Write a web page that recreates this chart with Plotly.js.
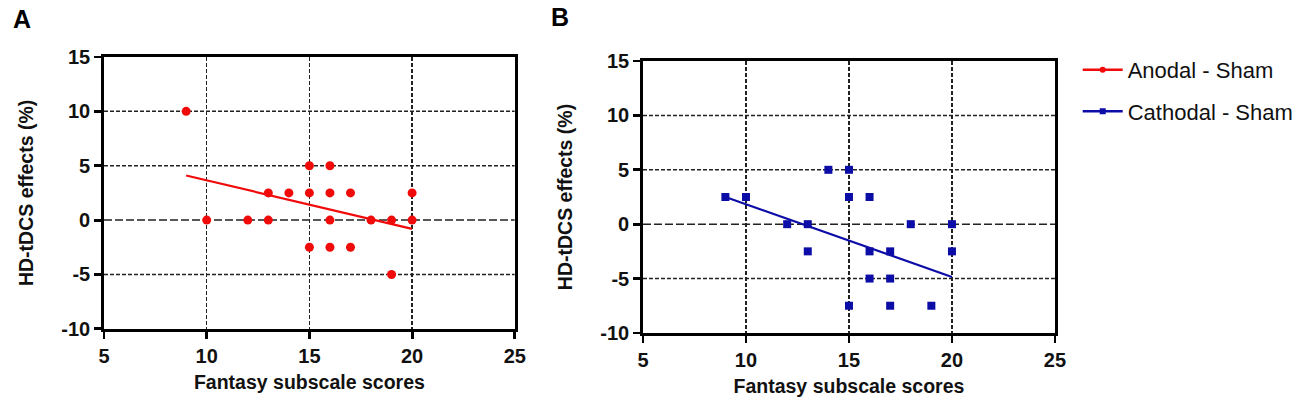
<!DOCTYPE html>
<html>
<head>
<meta charset="utf-8">
<script src="https://cdn.plot.ly/plotly-3.0.1.min.js"></script>
<style>
  html, body { margin: 0; padding: 0; background: #fff; }
  #chart { width: 1300px; height: 407px; }
</style>
</head>
<body>
<div id="chart"></div>
<script>
// Panel A : Anodal - Sham
const anodalX = [9, 10, 12, 13, 13, 14, 15, 15, 15, 16, 16, 16, 16, 17, 17, 18, 19, 19, 20, 20];
const anodalY = [10, 0, 0, 0, 2.5, 2.5, 5, 2.5, -2.5, 5, 2.5, 0, -2.5, 2.5, -2.5, 0, 0, -5, 2.5, 0];
const anodalFitX = [9, 20];
const anodalFitY = [4.1, -0.8];

// Panel B : Cathodal - Sham
const cathodalX = [9, 10, 12, 13, 13, 14, 15, 15, 15, 16, 16, 16, 17, 17, 17, 18, 19, 20, 20];
const cathodalY = [2.5, 2.5, 0, 0, -2.5, 5, 5, 2.5, -7.5, 2.5, -2.5, -5, -2.5, -5, -7.5, 0, -7.5, 0, -2.5];
const cathodalFitX = [9, 20];
const cathodalFitY = [2.5, -4.85];

const xTicks = [5, 10, 15, 20, 25];
const yTicks = [-10, -5, 0, 5, 10, 15];
const yTickText = ["-10", "-5", "0", "5", "10", "15"];
const gridY = [-5, 5, 10];

const RED = "#f00a0a";
const BLUE = "#0c0ca6";
const FONT = "Liberation Sans, Arial, sans-serif";

const data = [
  {x: anodalX, y: anodalY, mode: "markers", type: "scatter", xaxis: "x", yaxis: "y",
   marker: {color: RED, size: 9, symbol: "circle"}, showlegend: false},
  {x: anodalFitX, y: anodalFitY, mode: "lines", type: "scatter", xaxis: "x", yaxis: "y",
   line: {color: RED, width: 2.2}, showlegend: false},
  {x: cathodalX, y: cathodalY, mode: "markers", type: "scatter", xaxis: "x2", yaxis: "y2",
   marker: {color: BLUE, size: 8, symbol: "square"}, showlegend: false},
  {x: cathodalFitX, y: cathodalFitY, mode: "lines", type: "scatter", xaxis: "x2", yaxis: "y2",
   line: {color: BLUE, width: 2.2}, showlegend: false},
  // legend entries only
  {x: [null], y: [null], mode: "lines+markers", name: "Anodal - Sham", legendgroup: "a",
   line: {color: RED, width: 2.5}, marker: {color: RED, size: 6, symbol: "circle"}},
  {x: [null], y: [null], mode: "lines+markers", name: "Cathodal - Sham", legendgroup: "b",
   line: {color: BLUE, width: 2.5}, marker: {color: BLUE, size: 6, symbol: "square"}}
];

function xAxis(domain, anchor) {
  return {
    domain: domain, anchor: anchor, range: [5, 25], tickvals: xTicks, automargin: false,
    showline: true, linecolor: "#000", linewidth: 2.8, mirror: true,
    ticks: "outside", ticklen: 7, tickwidth: 2.8, tickcolor: "#000",
    showgrid: true, gridcolor: "#222", gridwidth: 1.5, griddash: "4px,2px",
    zeroline: false,
    tickfont: {family: FONT, size: 20, color: "#111", weight: "bold"},
    title: {text: "Fantasy subscale scores", standoff: 10,
            font: {family: FONT, size: 19.5, color: "#111", weight: "bold"}}
  };
}
function yAxis(domain, anchor) {
  return {
    domain: domain, anchor: anchor, range: [-10, 15], tickvals: yTicks, ticktext: yTickText,
    automargin: false,
    showline: true, linecolor: "#000", linewidth: 2.8, mirror: true,
    ticks: "outside", ticklen: 7, tickwidth: 2.8, tickcolor: "#000",
    showgrid: false, zeroline: false,
    tickfont: {family: FONT, size: 20, color: "#111", weight: "bold"},
    title: {text: "HD-tDCS effects (%)", standoff: 23,
            font: {family: FONT, size: 19.5, color: "#111", weight: "bold"}}
  };
}

const shapes = [];
[["x", "y"], ["x2", "y2"]].forEach(function (ax) {
  gridY.forEach(function (v) {
    shapes.push({type: "line", xref: ax[0], yref: ax[1], x0: 5, x1: 25, y0: v, y1: v,
                 layer: "below", line: {color: "#222", width: 1.5, dash: "4px,2px"}});
  });
  shapes.push({type: "line", xref: ax[0], yref: ax[1], x0: 5, x1: 25, y0: 0, y1: 0,
               layer: "below", line: {color: "#222", width: 1.5, dash: "8px,3px"}});
});

const layout = {
  width: 1300, height: 407,
  margin: {l: 0, r: 0, t: 0, b: 0, autoexpand: false},
  paper_bgcolor: "#fff", plot_bgcolor: "#fff",
  xaxis: xAxis([0.08, 0.396], "y"),
  yaxis: yAxis([0.192, 0.86], "x"),
  xaxis2: xAxis([0.4946, 0.8115], "y2"),
  yaxis2: yAxis([0.182, 0.85], "x2"),
  shapes: shapes,
  showlegend: true,
  legend: {x: 0.829, y: 0.88, xanchor: "left", yanchor: "top", bgcolor: "rgba(0,0,0,0)",
           traceorder: "grouped", tracegroupgap: 10, itemwidth: 40,
           font: {family: FONT, size: 22, color: "#111"}},
  annotations: [
    {text: "A", xref: "paper", yref: "paper", x: 22 / 1300, y: 1 - 19 / 407, showarrow: false,
     xanchor: "center", yanchor: "middle", font: {family: FONT, size: 25, color: "#000", weight: "bold"}},
    {text: "B", xref: "paper", yref: "paper", x: 560 / 1300, y: 1 - 17 / 407, showarrow: false,
     xanchor: "center", yanchor: "middle", font: {family: FONT, size: 25, color: "#000", weight: "bold"}}
  ]
};

Plotly.newPlot("chart", data, layout, {displayModeBar: false, staticPlot: true});
</script>
</body>
</html>
